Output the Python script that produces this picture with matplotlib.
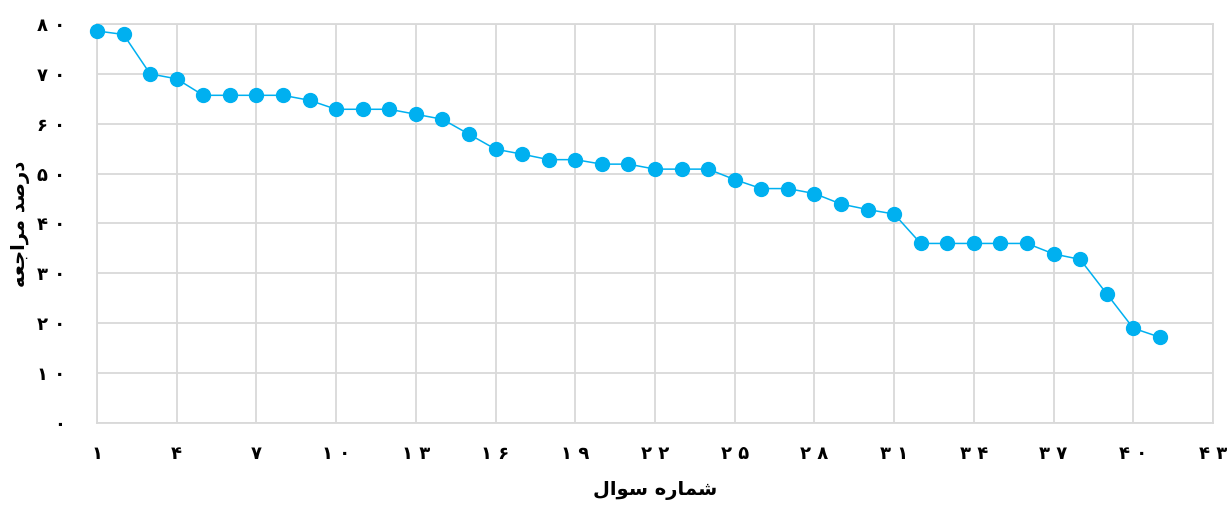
import matplotlib
matplotlib.use("Agg")
import matplotlib.pyplot as plt

# داده ها (درصد مراجعه برای هر سوال)
questions = list(range(1, 42))
percent = [78.6, 77.9, 70.0, 69.0, 65.7, 65.7, 65.7, 65.7, 64.7, 62.9,
           62.9, 62.9, 61.9, 60.9, 57.9, 54.9, 53.9, 52.8, 52.8, 51.9,
           51.9, 50.9, 50.9, 50.9, 48.8, 47.0, 47.0, 46.0, 43.9, 42.8,
           41.9, 36.0, 36.0, 36.0, 36.0, 36.0, 33.9, 32.8, 25.9, 19.0,
           17.2]

x_ticks = list(range(1, 44, 3))
y_ticks = list(range(0, 81, 10))

# عنوان ها با شکل نمایشی حروف (ترتیب دیداری)
x_title = "\uFEDD\uFE8D\uFEEE\uFEB3 \uFEE9\uFEAD\uFE8E\uFEE4\uFEB7"   # شماره سوال
y_title = "\uFEEA\uFECC\uFE9F\uFE8D\uFEAE\uFEE3 \uFEAA\uFEBB\uFEAD\uFEA9"  # درصد مراجعه

FA_DIGITS = str.maketrans("0123456789", "۰۱۲۳۴۵۶۷۸۹")


def fa(n):
    return " ".join(str(n).translate(FA_DIGITS)) if n >= 10 else str(n).translate(FA_DIGITS)


BLUE = "#00B0F0"
GRID = "#D9D9D9"

fig, ax = plt.subplots(figsize=(12.32, 5.05), dpi=100)
fig.subplots_adjust(left=0.0787, right=0.9846, top=0.9525, bottom=0.1624)

ax.plot(questions, percent, color=BLUE, lw=1.1, marker="o", markersize=10,
        markerfacecolor=BLUE, markeredgecolor=BLUE, clip_on=False, zorder=3)

ax.set_xlim(1, 43)
ax.set_ylim(0, 80)
ax.set_xticks(x_ticks)
ax.set_yticks(y_ticks)
ax.set_xticklabels([fa(v) for v in x_ticks], fontsize=13, fontweight="bold")
ax.set_yticklabels([fa(v) for v in y_ticks], fontsize=13, fontweight="bold")
ax.tick_params(length=0)
ax.tick_params(axis="x", pad=16)
ax.tick_params(axis="y", pad=23)

ax.grid(True, color=GRID, lw=1.3)
ax.set_axisbelow(True)
for s in ax.spines.values():
    s.set_color(GRID)
    s.set_linewidth(1.3)

ax.set_xlabel(x_title, fontsize=14, fontweight="bold", labelpad=13)
ax.set_ylabel(y_title, fontsize=14, fontweight="bold", labelpad=5)

fig.savefig("out.png", dpi=100)
plt.close(fig)
